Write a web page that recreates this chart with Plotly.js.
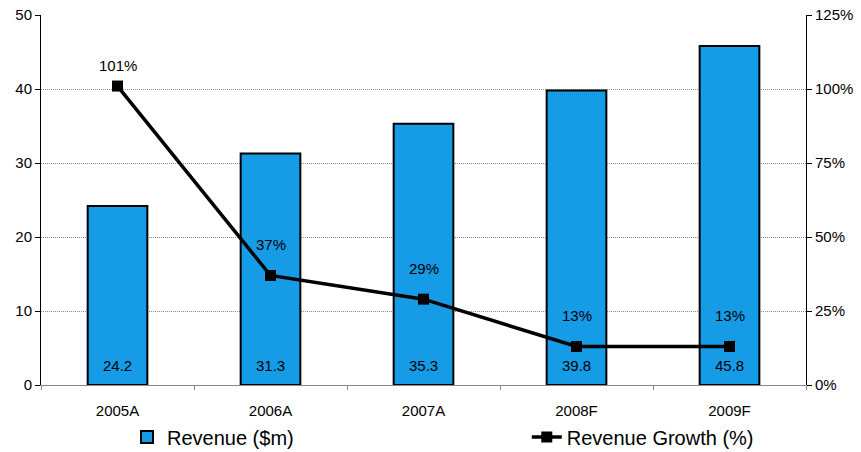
<!DOCTYPE html>
<html>
<head>
<meta charset="utf-8">
<script src="https://cdn.plot.ly/plotly-3.0.1.min.js"></script>
<style>html,body{margin:0;padding:0;background:#fff}#chart{width:861px;height:452px}</style>
</head>
<body>
<div id="chart"></div>
<script>
var categories = ["2005A", "2006A", "2007A", "2008F", "2009F"];
var revenue = [24.2, 31.3, 35.3, 39.8, 45.8];
var growth = [1.01, 0.37, 0.29, 0.13, 0.13];
var growthLabels = ["101%", "37%", "29%", "13%", "13%"];
var leftTicks = [0, 10, 20, 30, 40, 50];
var rightTicks = [0, 0.25, 0.5, 0.75, 1.0, 1.25];
var rightTickLabels = ["0%", "25%", "50%", "75%", "100%", "125%"];

var FONT = "Liberation Sans, Arial, sans-serif";

var traces = [
  {
    type: "bar",
    name: "Revenue ($m)",
    x: categories,
    y: revenue,
    marker: {color: "#169BE6", line: {color: "#000", width: 2}},
    width: 0.39,
    legend: "legend"
  },
  {
    type: "scatter",
    mode: "lines+markers",
    name: "Revenue Growth (%)",
    x: categories,
    y: growth,
    yaxis: "y2",
    line: {color: "#000", width: 3.5},
    marker: {symbol: "square", size: 11, color: "#000"},
    legend: "legend2"
  }
];

var annotations = [];
categories.forEach(function (c, i) {
  annotations.push({
    x: c, y: 0, xref: "x", yref: "y",
    text: revenue[i].toFixed(1),
    showarrow: false, yanchor: "middle", yshift: 20,
    font: {family: FONT, size: 15, color: "#000"}
  });
  annotations.push({
    x: c, y: growth[i], xref: "x", yref: "y2",
    text: growthLabels[i],
    showarrow: false, yanchor: "middle", yshift: i === 0 ? 21 : 31,
    font: {family: FONT, size: 15, color: "#000"}
  });
});

var legendFont = {family: FONT, size: 20, color: "#000"};

var layout = {
  width: 861, height: 452,
  margin: {l: 41, r: 55, t: 15, b: 67, autoexpand: false},
  paper_bgcolor: "#fff", plot_bgcolor: "#fff",
  font: {family: FONT, size: 14, color: "#000"},
  showlegend: true,
  legend: {
    x: 0.1124, xanchor: "left", y: -0.1405, yanchor: "middle",
    font: legendFont, bgcolor: "rgba(0,0,0,0)"
  },
  legend2: {
    x: 0.635, xanchor: "left", y: -0.1405, yanchor: "middle",
    font: legendFont, bgcolor: "rgba(0,0,0,0)"
  },
  xaxis: {
    type: "category", automargin: false,
    showline: true, linecolor: "#888", linewidth: 1,
    ticks: "outside", tickson: "boundaries", ticklen: 4, tickcolor: "#888",
    ticklabelstandoff: 12, tickangle: 0,
    showgrid: false, zeroline: false,
    tickfont: {family: FONT, size: 15, color: "#000"}
  },
  yaxis: {
    range: [0, 50], tickvals: leftTicks, automargin: false,
    showline: true, linecolor: "#000", linewidth: 1,
    ticks: "outside", ticklen: 5, tickcolor: "#000",
    showgrid: true, gridcolor: "#888", griddash: "1px,1px", gridwidth: 1,
    zeroline: false,
    tickfont: {family: FONT, size: 15, color: "#000"}
  },
  yaxis2: {
    overlaying: "y", side: "right", automargin: false,
    range: [0, 1.25], tickvals: rightTicks, ticktext: rightTickLabels,
    showline: true, linecolor: "#000", linewidth: 1,
    ticks: "outside", ticklen: 5, tickcolor: "#000",
    showgrid: false, zeroline: false,
    tickfont: {family: FONT, size: 15, color: "#000"}
  },
  annotations: annotations
};

Plotly.newPlot("chart", traces, layout, {displayModeBar: false, staticPlot: true});
</script>
</body>
</html>
